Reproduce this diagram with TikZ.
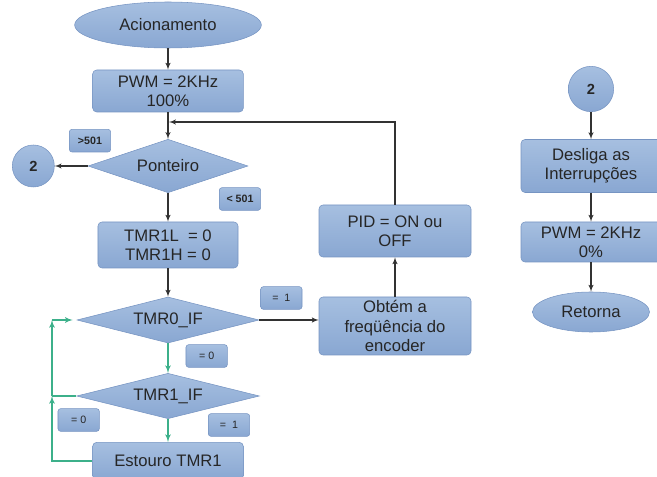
\documentclass[tikz,border=0pt]{standalone}
\usepackage{xcolor}
\usepackage{fontspec}
\setmainfont{Liberation Sans}
\usepackage{tikz}
\usetikzlibrary{shapes,arrows}
\definecolor{boxTop}{RGB}{166,191,224}
\definecolor{boxBot}{RGB}{137,167,210}
\definecolor{boxEdge}{RGB}{118,148,194}
\definecolor{lineGray}{RGB}{50,50,50}
\definecolor{loopGreen}{RGB}{60,176,138}
\definecolor{textGray}{RGB}{38,38,38}

\begin{document}
\begin{tikzpicture}
				\tikzstyle{common} = [draw=boxEdge, top color=boxTop, bottom color=boxBot, text=textGray, align=center, inner sep=1.5pt, font=\fontsize{12.5}{14.5}\selectfont]
				\tikzstyle{decision} = [diamond, common, aspect=3.5, inner sep=0]
				\tikzstyle{cloud} = [ellipse, common]
				\tikzstyle{block} = [rectangle, rounded corners=3pt, common]
				\tikzstyle{conn} = [circle, common, minimum size=31.5pt, inner sep=0, font=\fontsize{11}{13}\selectfont\bfseries]
				\tikzstyle{tag} = [rectangle, rounded corners=2pt, common, minimum width=31pt, minimum height=17pt, inner sep=0, font=\fontsize{8}{9}\selectfont]
				\tikzstyle{invisible} = [inner sep=0, draw=none, fill=none]
				\tikzstyle{line} = [draw=lineGray, line width=0.8pt, -latex']
				\tikzstyle{gline} = [draw=loopGreen, line width=1pt, -latex']
				\tikzstyle{gdraw} = [draw=loopGreen, line width=1pt]
				\useasboundingbox (-126pt,18.75pt) rectangle (366.75pt,-339pt);
				\node[cloud, minimum width=140pt, minimum height=34.5pt] (acion) {Acionamento};
				\node[block, below of=acion, node distance=49.5pt, minimum width=113pt, minimum height=31.5pt] (pwmA) {PWM = 2KHz\\100\%};
				\node[decision, below of=pwmA, node distance=56.25pt, minimum width=120pt, minimum height=40pt] (pont) {Ponteiro};
				\node[block, below of=pont, node distance=59.25pt, minimum width=105pt, minimum height=34.5pt] (zerar) {TMR1L\ \ = 0\\TMR1H = 0};
				\node[decision, below of=zerar, node distance=56.25pt, minimum width=136.5pt, minimum height=34.5pt] (tmrA) {TMR0\_IF};
				\node[decision, below of=tmrA, node distance=57pt, minimum width=137pt, minimum height=34pt] (tmrB) {TMR1\_IF};
				\node[block, below of=tmrB, node distance=48.75pt, minimum width=113pt, minimum height=28pt] (estouro) {Estouro TMR1};
				\node[conn, left of=pont, node distance=101pt] (doisA) {2};

				\node[block, right of=tmrA, node distance=170.25pt, yshift=-4.5pt, minimum width=114pt, minimum height=43.5pt] (obtem) {Obtém a\\freqüência do\\encoder};
				\node[block, above of=obtem, node distance=71.25pt, minimum width=114pt, minimum height=39pt] (pid) {PID = ON ou\\OFF};

				\node[conn, right of=pwmA, node distance=317.25pt, yshift=1.5pt, minimum size=34pt] (doisB) {2};
				\node[block, below of=doisB, node distance=57.75pt, minimum width=105pt, minimum height=39.75pt] (desliga) {Desliga as\\Interrupções};
				\node[block, below of=desliga, node distance=57pt, minimum width=105pt, minimum height=30pt] (pwmB) {PWM = 2KHz\\0\%};
				\node[cloud, below of=pwmB, node distance=52.5pt, minimum width=87.75pt, minimum height=30pt] (retorna) {Retorna};

				\node[tag, left of=pont, node distance=58.5pt, yshift=19pt] (lblMaior) {\textbf{>501}};
				\node[tag, right of=pont, node distance=54pt, yshift=-24.75pt] (lblMenor) {\textbf{< 501}};
				\node[tag, right of=tmrA, node distance=85pt, yshift=16.5pt] (lblA1) {=\ \ 1};
				\node[tag, right of=tmrA, node distance=29pt, yshift=-27pt] (lblA0) {= 0};
				\node[tag, left of=tmrB, node distance=67pt, yshift=-18pt] (lblB0) {= 0};
				\node[tag, right of=tmrB, node distance=45.75pt, yshift=-21.75pt] (lblB1) {=\ \ 1};

				\node[invisible, below of=pwmA, node distance=23.25pt] (volta) {};
				\node[invisible, left of=estouro, node distance=87pt] (canto) {};
				\coordinate (gA) at (tmrA.west -| canto);
				\coordinate (gB) at (tmrB.west -| canto);

				\draw[line] (acion) -- (pwmA);
				\draw[line] (pwmA) -- (pont);
				\draw[line] (pont) -- (doisA);
				\draw[line] (pont) -- (zerar);
				\draw[line] (zerar) -- (tmrA);
				\draw[line] (tmrA.east) -- (tmrA.east -| obtem.west);
				\draw[line] (obtem) -- (pid);
				\draw[line] (pid) |- (volta);
				\draw[gline] (tmrA) -- (tmrB);
				\draw[gline] (tmrB) -- (estouro);
				\draw[gline] (estouro) -| (gB);
				\draw[gdraw] (tmrB) -- (gB);
				\draw[gline] (gB) -- (gA);
				\draw[gline, shorten >=3pt] (gA) -- (tmrA);
				\draw[line] (doisB) -- (desliga);
				\draw[line] (desliga) -- (pwmB);
				\draw[line] (pwmB) -- (retorna);
			\end{tikzpicture}
\end{document}
